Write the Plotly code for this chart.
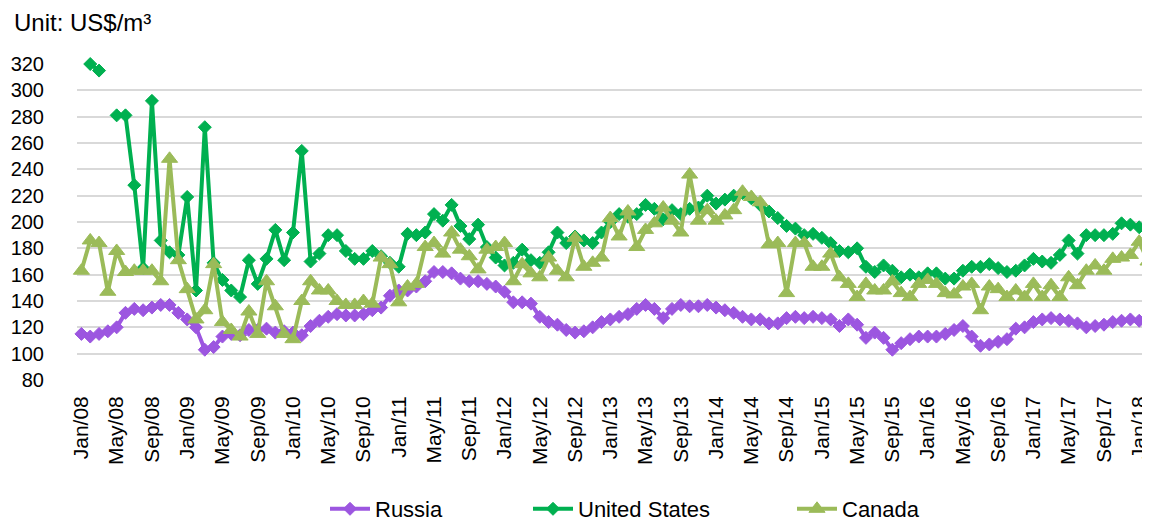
import plotly.graph_objects as go

MONTH_NAMES = ["Jan", "Feb", "Mar", "Apr", "May", "Jun", "Jul", "Aug", "Sep", "Oct", "Nov", "Dec"]
months = [f"{MONTH_NAMES[m]}/{y:02d}" for y in range(8, 19) for m in range(12)][:122]

tick_labels = ["Jan/08", "May/08", "Sep/08", "Jan/09", "May/09", "Sep/09", "Jan/10", "May/10", "Sep/10",
               "Jan/11", "May/11", "Sep/11", "Jan/12", "May/12", "Sep/12", "Jan/13", "May/13", "Sep/13",
               "Jan/14", "May/14", "Sep/14", "Jan/15", "May/15", "Sep/15", "Jan/16", "May/16", "Sep/16",
               "Jan/17", "May/17", "Sep/17", "Jan/18"]

russia = [115, 113, 115, 117, 120, 131, 134, 133, 135, 137, 137, 131, 126, 120, 103, 105, 113, 115, 114, 118,
          118, 119, 116, 117, 116, 114, 121, 125, 128, 130, 129, 129, 130, 133, 135, 144, 148, 148, 151, 155,
          162, 162, 161, 157, 155, 155, 153, 151, 147, 139, 139, 138, 128, 124, 122, 118, 116, 117, 120, 124,
          126, 128, 130, 134, 137, 134, 127, 134, 137, 136, 136, 137, 135, 133, 131, 128, 126, 126, 123, 123,
          127, 128, 127, 128, 127, 126, 121, 126, 122, 112, 116, 112, 103, 108, 111, 113, 113, 113, 115, 118,
          121, 113, 106, 107, 109, 111, 119, 120, 124, 126, 127, 126, 125, 123, 120, 121, 122, 124, 125, 126,
          125, 127]

united_states = [None, 320, 315, None, 281, 281, 228, 165, 292, 186, 177, 175, 219, 148, 272, 169, 156, 148, 143, 171,
                 153, 172, 194, 171, 192, 254, 170, 176, 190, 190, 178, 172, 172, 178, 174, 169, 166, 191, 190, 192,
                 206, 201, 213, 197, 187, 198, 181, 173, 167, 169, 179, 171, 169, 177, 192, 184, 189, 186, 184, 192,
                 200, 206, 204, 206, 213, 210, 202, 209, 206, 210, 211, 220, 214, 217, 220, 222, 218, 213, 208, 203,
                 197, 195, 190, 191, 188, 184, 178, 177, 180, 166, 162, 167, 163, 158, 160, 158, 161, 161, 157, 157,
                 163, 166, 166, 168, 165, 162, 163, 167, 172, 170, 169, 175, 186, 176, 190, 190, 190, 191, 199, 198,
                 196, 193]

canada = [163, 186, 184, 147, 178, 162, 163, 163, 163, 155, 248, 171, 149, 126, 133, 168, 124, 118, 113, 132,
          115, 155, 136, 115, 111, 140, 155, 148, 148, 140, 137, 137, 140, 138, 173, 168, 139, 151, 153, 181,
          184, 176, 192, 179, 174, 164, 179, 181, 184, 155, 168, 161, 158, 173, 163, 158, 188, 166, 169, 173,
          203, 189, 208, 181, 194, 199, 211, 201, 192, 236, 201, 209, 201, 205, 209, 223, 219, 215, 183, 184,
          146, 184, 184, 166, 166, 176, 158, 153, 143, 153, 148, 148, 155, 146, 143, 153, 156, 153, 146, 145,
          151, 153, 133, 151, 149, 143, 148, 143, 153, 143, 152, 143, 158, 152, 163, 167, 163, 172, 173, 175,
          185, 170]

series = [
    ("Russia", russia, "#9C56E0", "diamond", 10, "legend"),
    ("United States", united_states, "#00B050", "diamond", 10, "legend2"),
    ("Canada", canada, "#9BBB59", "triangle-up", 14, "legend3"),
]

fig = go.Figure()
for name, vals, color, sym, size, leg in series:
    fig.add_trace(go.Scatter(
        x=months, y=vals, name=name, mode="lines+markers",
        line=dict(color=color, width=4),
        marker=dict(symbol=sym, size=size, color=color, line=dict(color=color, width=1)),
        connectgaps=False, cliponaxis=False, legend=leg, showlegend=True,
    ))

W, H = 1142, 515
FONT = "Liberation Sans, Arial, sans-serif"


def legend_at(xpx):
    return dict(orientation="h", xref="container", yref="container", yanchor="middle",
                xanchor="left", x=xpx / W, y=1 - 501 / H, itemwidth=40, bgcolor="rgba(0,0,0,0)",
                font=dict(family=FONT, size=22, color="#000000"), visible=True)


fig.update_layout(
    width=W, height=H,
    margin=dict(l=69, r=0, t=56, b=143),
    paper_bgcolor="white", plot_bgcolor="white",
    font=dict(family=FONT, color="#000000"),
    showlegend=True,
    legend=legend_at(317),
    legend2=legend_at(520),
    legend3=legend_at(784),
    annotations=[dict(text="Unit: US$/m³", xref="paper", yref="paper", x=-65 / 1073, y=1 + 41 / 316,
                      xanchor="left", yanchor="middle", showarrow=False,
                      font=dict(family=FONT, size=24, color="#000000"))],
)
fig.update_xaxes(type="category", categoryorder="array", categoryarray=months,
                 range=[-0.5, 121.0], tickmode="array", tickvals=tick_labels, ticktext=tick_labels,
                 tickangle=-90, showgrid=False, zeroline=False, showline=False,
                 ticks="", ticklabelstandoff=11,
                 tickfont=dict(family=FONT, size=21, color="#000000"))
fig.update_yaxes(range=[80, 320], tickmode="array", tickvals=list(range(80, 321, 20)),
                 showgrid=True, gridcolor="#D9D9D9", gridwidth=1.5, zeroline=False, showline=False,
                 ticks="", ticklabelstandoff=32,
                 tickfont=dict(family=FONT, size=20, color="#000000"))

fig.write_html("out.html")
